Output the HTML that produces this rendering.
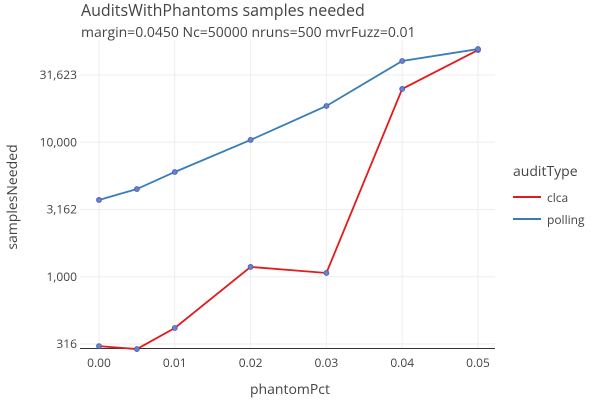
<!DOCTYPE html>
<html><head><meta charset="utf-8"><style>
body{margin:0;background:#fff;font-family:"Liberation Sans","DejaVu Sans",sans-serif;}
svg text{font-family:"Open Sans","DejaVu Sans","Liberation Sans",sans-serif;fill:#444;}
</style></head><body>
<svg id="chart" width="600" height="400" xmlns="http://www.w3.org/2000/svg">
<text x="81" y="16" font-size="16">AuditsWithPhantoms samples needed</text>
<text x="81" y="37" font-size="14">margin=0.0450 Nc=50000 nruns=500 mvrFuzz=0.01</text>
<g id="grid"></g><g id="axes"></g><g id="series"></g>
<text x="290" y="394" font-size="14" text-anchor="middle">phantomPct</text>
<text transform="translate(17,197) rotate(-90)" font-size="14" text-anchor="middle">samplesNeeded</text>
<text x="513" y="176" font-size="14">auditType</text>
<g><line x1="513" y1="197" x2="541" y2="197" stroke="#e41a1c" stroke-width="2"/><text x="547" y="202" font-size="12">clca</text></g>
<g><line x1="513" y1="219" x2="541" y2="219" stroke="#377eb8" stroke-width="2"/><text x="547" y="224" font-size="12">polling</text></g>
</svg>
<script>
const xValues=[0,0.005,0.01,0.02,0.03,0.04,0.05];
const clcaValues=[305,290,416,1183,1067,24900,48500];
const pollingValues=[3724,4490,6010,10400,18600,40200,49300];
const xTicks=[0,0.01,0.02,0.03,0.04,0.05];
const xTickLabels=["0.00","0.01","0.02","0.03","0.04","0.05"];
const yTicks=[316.2,1000,3162,10000,31623];
const yTickLabels=["316","1,000","3,162","10,000","31,623"];
const NS="http://www.w3.org/2000/svg";
const L=80,R=495,B=348.5;
function xs(v){return 99+v*7580;}
function ys(v){return 344-(Math.log10(v)-2.5)*134.5;}
function mk(t,a,p){const e=document.createElementNS(NS,t);for(const k in a)e.setAttribute(k,a[k]);p.appendChild(e);return e;}
const grid=document.getElementById('grid'),axes=document.getElementById('axes'),ser=document.getElementById('series');
xTicks.forEach((t,i)=>{
 const g=mk('line',{x1:xs(t),x2:xs(t),y1:40,y2:B,stroke:'#eee'},grid);
 
 
 const tx=mk('text',{x:xs(t),y:367,'font-size':12,'text-anchor':'middle'},axes);tx.textContent=xTickLabels[i];
 
 
});
yTicks.forEach((t,i)=>{
 const g=mk('line',{x1:L,x2:R,y1:ys(t),y2:ys(t),stroke:'#eee'},grid);
 
 
 const tx=mk('text',{x:77,y:ys(t)+4,'font-size':12,'text-anchor':'end'},axes);tx.textContent=yTickLabels[i];
 
 
});
const ax=mk('line',{x1:L,x2:R,y1:B,y2:B,stroke:'#333'},axes);


function series(vals,color,name){
 const p=mk('polyline',{points:vals.map((v,i)=>xs(xValues[i])+','+ys(v)).join(' '),fill:'none',stroke:color,'stroke-width':1.8},ser);
 
 
 vals.forEach((v,i)=>{
  const c=mk('circle',{cx:xs(xValues[i]),cy:ys(v),r:2.5,fill:'#6a7fd0',stroke:'#4a5fb0','stroke-width':0.8},ser);
  
  
 });
}
series(clcaValues,'#e41a1c','clca');
series(pollingValues,'#377eb8','polling');
</script>
</body></html>
